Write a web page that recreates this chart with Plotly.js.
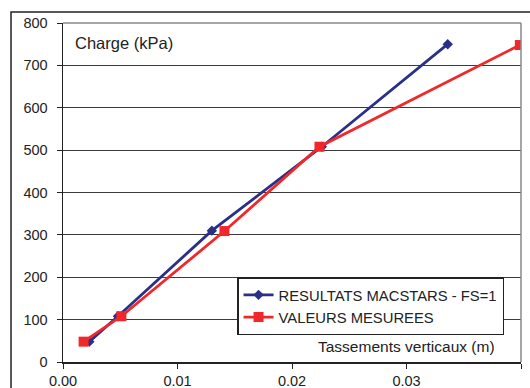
<!DOCTYPE html>
<html><head><meta charset="utf-8">
<script src="https://cdn.plot.ly/plotly-3.0.1.min.js"></script>
<style>html,body{margin:0;padding:0;background:#fff;}#c{width:530px;height:388px;}</style>
</head><body><div id="c"></div>
<script>
var macX = [0.0023, 0.0048, 0.0130, 0.0226, 0.0336];
var macY = [48, 108, 310, 508, 750];
var mesX = [0.0018, 0.0051, 0.0141, 0.0224, 0.0399];
var mesY = [48, 108, 309, 508, 748];
var nameMac = 'RESULTATS MACSTARS - FS=1';
var nameMes = 'VALEURS MESUREES';
var yTitle = 'Charge (kPa)';
var xTitle = 'Tassements verticaux (m)';

var F = 'Liberation Sans, Arial, sans-serif';
var traces = [
  {x: macX, y: macY, name: nameMac, mode: 'lines+markers', type: 'scatter',
   line: {color: '#2a2f88', width: 2.8}, marker: {symbol: 'diamond', size: 8, color: '#2a2f88'}},
  {x: mesX, y: mesY, name: nameMes, mode: 'lines+markers', type: 'scatter',
   line: {color: '#f0282a', width: 2.8}, marker: {symbol: 'square', size: 10, color: '#f0282a'}}
];
var layout = {
  width: 530, height: 388,
  margin: {l: 63, r: 9, t: 23, b: 26},
  paper_bgcolor: '#fff', plot_bgcolor: '#fff',
  font: {family: F, size: 14, color: '#222'},
  showlegend: true,
  legend: {x: 0.38, y: 0.25, xanchor: 'left', yanchor: 'top', bgcolor: '#fff',
           bordercolor: '#222', borderwidth: 1.5, font: {family: F, size: 14.8, color: '#222'},
           tracegroupgap: 0, itemwidth: 30},
  xaxis: {range: [0, 0.04], dtick: 0.01, tickformat: '.2f', showgrid: false, zeroline: false,
          showline: true, linecolor: '#222', linewidth: 1.5, ticks: 'outside', ticklen: 5,
          tickcolor: '#222', tickfont: {family: F, size: 14.5, color: '#222'}},
  yaxis: {range: [0, 800], dtick: 100, showgrid: true, gridcolor: '#3a3a3a', gridwidth: 1,
          zeroline: false, showline: true, linecolor: '#222', linewidth: 1.5, ticks: 'outside',
          ticklen: 5, tickcolor: '#222', ticklabelstandoff: 6,
          tickfont: {family: F, size: 14.5, color: '#222'}},
  shapes: [
    {type: 'line', xref: 'paper', yref: 'paper', x0: 0, x1: 1, y0: 1, y1: 1, line: {color: '#888', width: 1.5}},
    {type: 'line', xref: 'paper', yref: 'paper', x0: 1, x1: 1, y0: 0, y1: 1, line: {color: '#888', width: 1.5}},
    {type: 'rect', xref: 'paper', yref: 'paper', x0: -0.1135, x1: 1.3, y0: -0.3, y1: 1.0324, line: {color: '#222', width: 1.5}}
  ],
  annotations: [
    {text: yTitle, xref: 'paper', yref: 'paper', x: 0.021, y: 0.94, xanchor: 'left', yanchor: 'middle',
     showarrow: false, font: {family: F, size: 16.5, color: '#222'}},
    {text: xTitle, xref: 'paper', yref: 'paper', x: 0.948, y: 0.047, xanchor: 'right', yanchor: 'middle',
     showarrow: false, font: {family: F, size: 15.5, color: '#222'}}
  ]
};
Plotly.newPlot('c', traces, layout, {displayModeBar: false, staticPlot: true});
</script></body></html>
